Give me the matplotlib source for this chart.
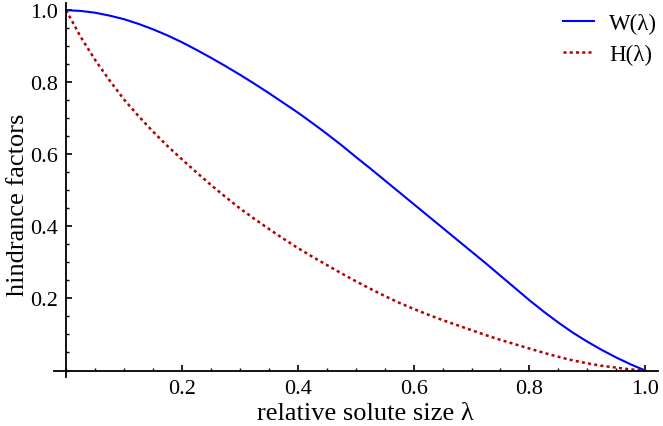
import matplotlib
matplotlib.use("Agg")
import matplotlib.pyplot as plt
from matplotlib.ticker import MultipleLocator, FixedLocator

# relative solute size lambda (step 0.025)
lam = [0.000, 0.025, 0.050, 0.075, 0.100, 0.125, 0.150, 0.175, 0.200, 0.225,
       0.250, 0.275, 0.300, 0.325, 0.350, 0.375, 0.400, 0.425, 0.450, 0.475,
       0.500, 0.525, 0.550, 0.575, 0.600, 0.625, 0.650, 0.675, 0.700, 0.725,
       0.750, 0.775, 0.800, 0.825, 0.850, 0.875, 0.900, 0.925, 0.950, 0.975, 1.000]

# W(lambda) hindrance factor
w_vals = [1.000, 0.998, 0.993, 0.985, 0.975, 0.962, 0.947, 0.930, 0.911, 0.890,
          0.868, 0.845, 0.821, 0.796, 0.770, 0.743, 0.716, 0.687, 0.657, 0.626,
          0.593, 0.561, 0.528, 0.495, 0.462, 0.429, 0.396, 0.363, 0.330, 0.297,
          0.263, 0.229, 0.195, 0.163, 0.133, 0.105, 0.080, 0.057, 0.036, 0.017, 0.000]

# H(lambda) hindrance factor
h_vals = [1.000, 0.926, 0.862, 0.805, 0.752, 0.706, 0.663, 0.623, 0.586, 0.550,
          0.515, 0.482, 0.450, 0.421, 0.393, 0.366, 0.340, 0.316, 0.293, 0.270,
          0.248, 0.227, 0.207, 0.188, 0.171, 0.155, 0.140, 0.126, 0.112, 0.098,
          0.085, 0.073, 0.061, 0.049, 0.038, 0.028, 0.020, 0.013, 0.008, 0.003, 0.000]

major_ticks = [0.2, 0.4, 0.6, 0.8, 1.0]
tick_labels = ["0.2", "0.4", "0.6", "0.8", "1.0"]

plt.rcParams["font.family"] = ["Liberation Serif", "DejaVu Serif"]

W, H = 663, 427
fig = plt.figure(figsize=(W / 100, H / 100), dpi=100)
ax = fig.add_axes([54 / W, 1 - 378 / H, 604 / W, 374 / H])

ax.plot(lam, w_vals, color="#0000ff", lw=1.5, label="W(λ)")
ax.plot(lam, h_vals, color="#b00000", lw=1.8, linestyle=(0, (1.2, 1.3)), label="H(λ)")

ax.set_xlim(-0.021, 1.022)
ax.set_ylim(-0.018, 1.02)

# Mathematica-like axes crossing at the origin
for side in ["top", "right"]:
    ax.spines[side].set_visible(False)
ax.spines["left"].set_position(("data", 0))
ax.spines["bottom"].set_position(("data", 0))
ax.spines["left"].set_linewidth(1.3)
ax.spines["bottom"].set_linewidth(1.3)

ax.xaxis.set_major_locator(FixedLocator(major_ticks))
ax.yaxis.set_major_locator(FixedLocator(major_ticks))
ax.set_xticklabels(tick_labels)
ax.set_yticklabels(tick_labels)
ax.xaxis.set_minor_locator(MultipleLocator(0.05))
ax.yaxis.set_minor_locator(MultipleLocator(0.05))
ax.tick_params(which="major", direction="in", length=4.5, width=1.2, labelsize=16, pad=6)
ax.tick_params(which="minor", direction="in", length=2.5, width=1.0)

# axis labels placed in figure pixels
fig.text(365 / W, 1 - 420 / H, "relative solute size λ", fontsize=19,
         ha="center", va="baseline")
fig.text(18 / W, 1 - 205 / H, "hindrance factors", fontsize=19,
         ha="center", va="center", rotation=90)

ax.legend(loc="upper right", bbox_to_anchor=(657 / W, 1 - 14 / H),
          bbox_transform=fig.transFigure, borderaxespad=0, borderpad=0,
          frameon=False, fontsize=16.5, handlelength=1.35, handletextpad=0.65,
          labelspacing=0.42)

fig.savefig("out.png", dpi=100)
